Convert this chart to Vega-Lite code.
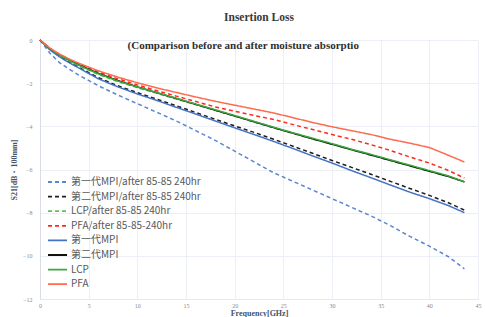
{
  "$schema": "https://vega.github.io/schema/vega-lite/v6.json",
  "autosize": {"type": "none"},
  "width": 438,
  "height": 259,
  "padding": {"left": 40, "top": 40, "right": 7, "bottom": 18},
  "background": "white",
  "config": {"view": {"stroke": null}},
  "title": {"text": "Insertion Loss", "font": "Liberation Serif", "fontSize": 11.5, "fontWeight": "bold", "color": "#3a3a3a", "offset": 14, "anchor": "middle"},
  "data": {"values": [
    {"GHz": 0, "s1": 0, "s2": 0, "s3": 0, "s4": 0, "s5": 0, "s6": 0, "s7": 0, "s8": 0},
    {"GHz": 1, "s1": -0.6, "s2": -0.43, "s3": -0.41, "s4": -0.38, "s5": -0.45, "s6": -0.4, "s7": -0.4, "s8": -0.37},
    {"GHz": 2, "s1": -1.05, "s2": -0.76, "s3": -0.71, "s4": -0.67, "s5": -0.78, "s6": -0.69, "s7": -0.7, "s8": -0.65},
    {"GHz": 3, "s1": -1.35, "s2": -1.02, "s3": -0.97, "s4": -0.9, "s5": -1.05, "s6": -0.94, "s7": -0.95, "s8": -0.88},
    {"GHz": 4, "s1": -1.63, "s2": -1.27, "s3": -1.19, "s4": -1.12, "s5": -1.3, "s6": -1.15, "s7": -1.17, "s8": -1.08},
    {"GHz": 6, "s1": -2.12, "s2": -1.75, "s3": -1.6, "s4": -1.48, "s5": -1.8, "s6": -1.55, "s7": -1.57, "s8": -1.43},
    {"GHz": 8, "s1": -2.55, "s2": -2.12, "s3": -1.93, "s4": -1.8, "s5": -2.17, "s6": -1.88, "s7": -1.9, "s8": -1.72},
    {"GHz": 10, "s1": -2.95, "s2": -2.44, "s3": -2.21, "s4": -2.08, "s5": -2.5, "s6": -2.17, "s7": -2.18, "s8": -1.98},
    {"GHz": 12, "s1": -3.35, "s2": -2.74, "s3": -2.47, "s4": -2.35, "s5": -2.8, "s6": -2.44, "s7": -2.44, "s8": -2.22},
    {"GHz": 14, "s1": -3.75, "s2": -3.05, "s3": -2.74, "s4": -2.6, "s5": -3.12, "s6": -2.71, "s7": -2.7, "s8": -2.43},
    {"GHz": 16, "s1": -4.2, "s2": -3.36, "s3": -3.0, "s4": -2.85, "s5": -3.43, "s6": -2.98, "s7": -2.97, "s8": -2.64},
    {"GHz": 18, "s1": -4.65, "s2": -3.67, "s3": -3.27, "s4": -3.1, "s5": -3.75, "s6": -3.25, "s7": -3.23, "s8": -2.84},
    {"GHz": 20, "s1": -5.15, "s2": -3.98, "s3": -3.53, "s4": -3.3, "s5": -4.07, "s6": -3.52, "s7": -3.5, "s8": -3.02},
    {"GHz": 22, "s1": -5.65, "s2": -4.28, "s3": -3.8, "s4": -3.5, "s5": -4.38, "s6": -3.79, "s7": -3.77, "s8": -3.2},
    {"GHz": 24, "s1": -6.15, "s2": -4.6, "s3": -4.07, "s4": -3.68, "s5": -4.7, "s6": -4.06, "s7": -4.04, "s8": -3.38},
    {"GHz": 26, "s1": -6.55, "s2": -4.92, "s3": -4.33, "s4": -3.92, "s5": -5.03, "s6": -4.32, "s7": -4.3, "s8": -3.6},
    {"GHz": 28, "s1": -6.95, "s2": -5.25, "s3": -4.58, "s4": -4.15, "s5": -5.37, "s6": -4.58, "s7": -4.55, "s8": -3.82},
    {"GHz": 30, "s1": -7.35, "s2": -5.58, "s3": -4.83, "s4": -4.38, "s5": -5.7, "s6": -4.83, "s7": -4.8, "s8": -4.02},
    {"GHz": 32, "s1": -7.75, "s2": -5.9, "s3": -5.09, "s4": -4.6, "s5": -6.05, "s6": -5.08, "s7": -5.06, "s8": -4.2},
    {"GHz": 34, "s1": -8.15, "s2": -6.22, "s3": -5.33, "s4": -4.85, "s5": -6.38, "s6": -5.33, "s7": -5.3, "s8": -4.38},
    {"GHz": 36, "s1": -8.6, "s2": -6.55, "s3": -5.58, "s4": -5.12, "s5": -6.72, "s6": -5.58, "s7": -5.55, "s8": -4.6},
    {"GHz": 38, "s1": -9.1, "s2": -6.88, "s3": -5.83, "s4": -5.42, "s5": -7.05, "s6": -5.83, "s7": -5.8, "s8": -4.78},
    {"GHz": 40, "s1": -9.55, "s2": -7.2, "s3": -6.08, "s4": -5.7, "s5": -7.35, "s6": -6.08, "s7": -6.05, "s8": -4.98},
    {"GHz": 42, "s1": -10.05, "s2": -7.55, "s3": -6.33, "s4": -6.05, "s5": -7.68, "s6": -6.33, "s7": -6.3, "s8": -5.35},
    {"GHz": 43.6, "s1": -10.6, "s2": -7.88, "s3": -6.58, "s4": -6.4, "s5": -8.0, "s6": -6.57, "s7": -6.57, "s8": -5.65}
  ]},
  "layer": [
    {
      "transform": [{"fold": ["s1", "s2", "s3", "s4", "s5", "s6", "s7", "s8"], "as": ["series", "val"]}],
      "mark": {"type": "line", "strokeWidth": 1.5},
      "encoding": {
        "x": {"field": "GHz", "type": "quantitative", "scale": {"domain": [0, 45], "nice": false},
          "axis": {"values": [0, 5, 10, 15, 20, 25, 30, 35, 40, 45], "title": "Frequency[GHz]", "titleFont": "Liberation Serif", "titleFontSize": 8, "titleFontWeight": "bold", "titleColor": "#44546a", "titlePadding": 1, "labelFont": "Liberation Serif", "labelFontSize": 6, "labelColor": "#8a8a8a", "labelPadding": 3, "ticks": false, "domainColor": "#e6e9f0", "gridColor": "#eceff5", "labelFlush": false}},
        "y": {"field": "val", "type": "quantitative", "scale": {"domain": [-12, 0], "nice": false},
          "axis": {"values": [0, -2, -4, -6, -8, -10, -12], "title": "S21[dB・100mm]", "titleFont": "Liberation Serif", "titleFontSize": 8, "titleFontWeight": "bold", "titleColor": "#44546a", "titlePadding": 4, "labelFont": "Liberation Serif", "labelFontSize": 6, "labelColor": "#8a8a8a", "labelPadding": 8, "ticks": false, "domainColor": "#d8dce6", "gridColor": "#eceff5"}},
        "color": {"field": "series", "type": "nominal",
          "scale": {"domain": ["s1", "s2", "s3", "s4", "s5", "s6", "s7", "s8"], "range": ["#5b86d0", "#1e1e1e", "#5cc15c", "#ff2a1a", "#4472c4", "#111111", "#3ea83e", "#ff6a4d"]},
          "legend": {"title": null, "orient": "none", "legendX": 7, "legendY": 136, "symbolType": "stroke", "symbolSize": 361, "symbolStrokeWidth": 1.8, "labelFont": "Noto Sans CJK SC", "labelFontSize": 10, "labelColor": "#595959", "labelOffset": 3, "rowPadding": 2.6, "clipHeight": 12,
            "labelExpr": "{'s1': '第一代MPI/after 85-85 240hr', 's2': '第二代MPI/after 85-85 240hr', 's3': 'LCP/after 85-85 240hr', 's4': 'PFA/after 85-85-240hr', 's5': '第一代MPI', 's6': '第二代MPI', 's7': 'LCP', 's8': 'PFA'}[datum.label]"}},
        "strokeDash": {"field": "series", "type": "nominal",
          "scale": {"domain": ["s1", "s2", "s3", "s4", "s5", "s6", "s7", "s8"], "range": [[4, 3], [4, 3], [4, 3], [4, 3], [1, 0], [1, 0], [1, 0], [1, 0]]},
          "legend": null}
      }
    },
    {
      "data": {"values": [{"GHz": 9.0, "val": -0.28, "label": "(Comparison before and after moisture absorptio"}]},
      "mark": {"type": "text", "align": "left", "baseline": "middle", "font": "Liberation Serif", "fontSize": 11, "fontWeight": "bold", "color": "#2f2f2f"},
      "encoding": {
        "x": {"field": "GHz", "type": "quantitative"},
        "y": {"field": "val", "type": "quantitative"},
        "text": {"field": "label"}
      }
    }
  ]
}
